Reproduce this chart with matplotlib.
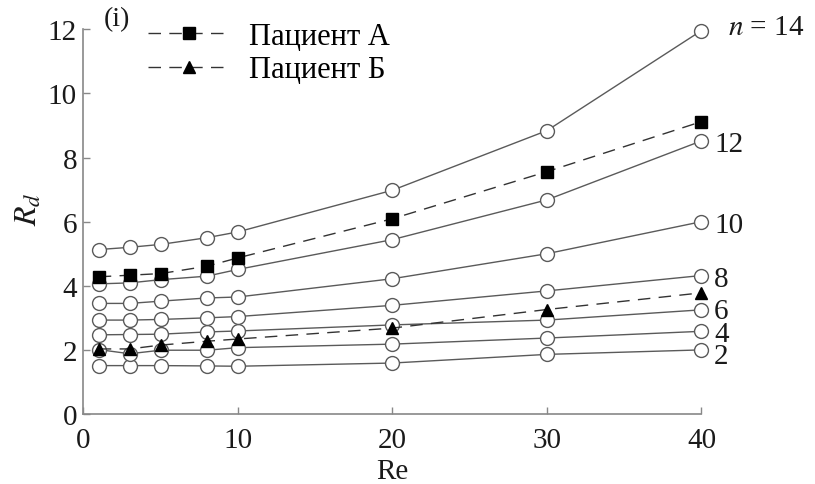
import matplotlib
matplotlib.use("Agg")
import matplotlib.pyplot as plt

plt.rcParams['font.family'] = ['Liberation Serif', 'DejaVu Serif']
plt.rcParams['mathtext.fontset'] = 'stix'

# данные
re_vals = [1, 3, 5, 8, 10, 20, 30, 40]
n_labels = ['2', '4', '6', '8', '10', '12', r'$n$ = 14']
n2 = [1.51, 1.51, 1.51, 1.50, 1.49, 1.59, 1.86, 2.00]
n4 = [2.01, 1.88, 1.99, 1.99, 2.07, 2.18, 2.37, 2.58]
n6 = [2.47, 2.48, 2.49, 2.56, 2.59, 2.78, 2.93, 3.25]
n8 = [2.93, 2.93, 2.95, 3.00, 3.04, 3.39, 3.84, 4.32]
n10 = [3.45, 3.45, 3.52, 3.62, 3.65, 4.22, 5.00, 6.00]
n12 = [4.06, 4.09, 4.19, 4.30, 4.51, 5.44, 6.68, 8.52]
n14 = [5.13, 5.20, 5.29, 5.50, 5.68, 6.98, 8.84, 11.96]
pat_a = [4.28, 4.33, 4.38, 4.61, 4.87, 6.09, 7.56, 9.12]
pat_b = [2.03, 2.03, 2.15, 2.27, 2.34, 2.68, 3.26, 3.78]
series_n = [n2, n4, n6, n8, n10, n12, n14]
# сдвиги подписей справа: по вертикали (R_d) и по горизонтали (pt)
label_dy = [-0.1, 0.0, 0.05, 0.0, 0.0, 0.0, 0.22]
label_dx = [9, 9, 9, 9, 9, 9, 19]

fig = plt.figure(figsize=(8.15, 4.85), dpi=100)
ax = fig.add_axes([0.1022, 0.1443, 0.7585, 0.7932])

grey = '#5a5a5a'
for ys, lab, dy, dx in zip(series_n, n_labels, label_dy, label_dx):
    ax.plot(re_vals, ys, '-', color=grey, lw=1.0, marker='o', ms=10,
            mfc='white', mec=grey, mew=1.0, clip_on=False, zorder=3)
    ax.annotate(lab, xy=(re_vals[-1], ys[-1] + dy), xytext=(dx, 0),
                textcoords='offset points', va='center_baseline', ha='left',
                fontsize=21, color='#1a1a1a', annotation_clip=False)

ax.plot(re_vals, pat_a, color='#333333', lw=1.0, ls=(0, (9, 6)), marker='s',
        ms=8.5, mfc='black', mec='black', clip_on=False, zorder=4, label='Пациент А')
ax.plot(re_vals, pat_b, color='#333333', lw=1.0, ls=(0, (9, 6)), marker='^',
        ms=9, mfc='black', mec='black', clip_on=False, zorder=4, label='Пациент Б')

ax.set_xlim(0, 40)
ax.set_ylim(0, 12)
ax.set_xticks([0, 10, 20, 30, 40])
ax.set_yticks([0, 2, 4, 6, 8, 10, 12])
for s in ['top', 'right']:
    ax.spines[s].set_visible(False)
for s in ['left', 'bottom']:
    ax.spines[s].set_color('#888888')
    ax.spines[s].set_linewidth(1.2)
ax.tick_params(direction='in', length=5, width=1, color='#888888',
               labelsize=21, labelcolor='#1a1a1a')
ax.tick_params(axis='x', pad=9)
ax.tick_params(axis='y', pad=4.5)

ax.set_xlabel('Re', fontsize=21, color='#1a1a1a', labelpad=4)
ax.set_ylabel('$R_d$', fontsize=23, color='#1a1a1a', va='center')
ax.yaxis.set_label_coords(-0.088, 0.535)

ax.text(0.0545, 1.027, '(i)', transform=ax.transAxes, fontsize=20,
        color='#1a1a1a', va='center', ha='center')
ax.legend(loc='upper left', bbox_to_anchor=(0.105, 1.02), frameon=False,
          fontsize=22, handlelength=2.7, handletextpad=0.6, labelspacing=0.15,
          borderaxespad=0, borderpad=0)

fig.savefig('out.png', dpi=100)
